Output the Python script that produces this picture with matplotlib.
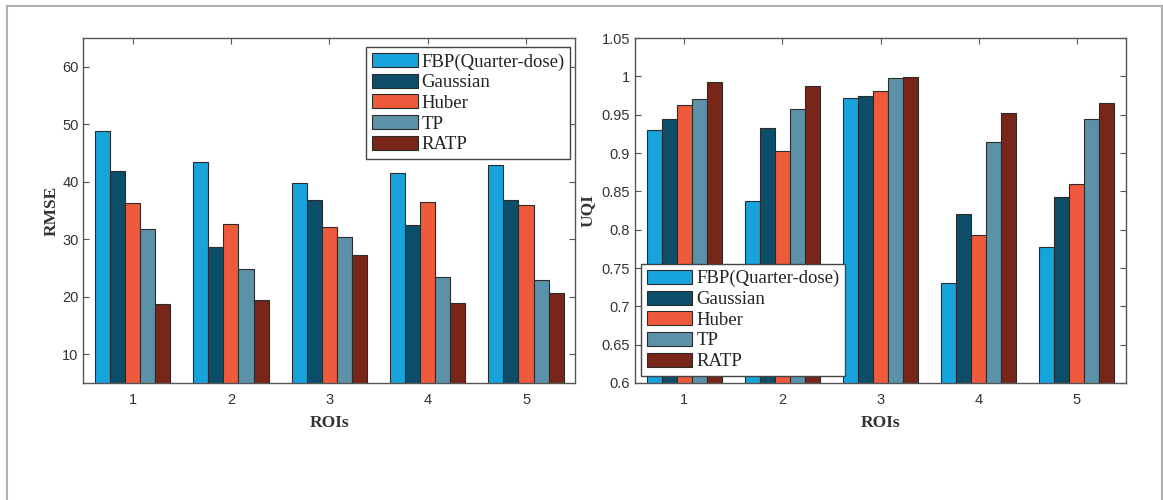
import matplotlib.pyplot as plt
from matplotlib.lines import Line2D
import numpy as np

# ── data ─────────────────────────────────────────────────────────────────────
ROIS = [1, 2, 3, 4, 5]
METHODS = ["FBP(Quarter-dose)", "Gaussian", "Huber", "TP", "RATP"]
COLORS = ["#17a3dc", "#0c4e6a", "#ef5a3c", "#5b92aa", "#78251a"]

RMSE_FBP      = [48.8, 43.4, 39.8, 41.5, 42.9]
RMSE_GAUSSIAN = [41.8, 28.6, 36.8, 32.4, 36.8]
RMSE_HUBER    = [36.3, 32.6, 32.2, 36.4, 35.9]
RMSE_TP       = [31.7, 24.9, 30.4, 23.4, 23.0]
RMSE_RATP     = [18.8, 19.4, 27.3, 19.0, 20.6]

UQI_FBP      = [0.930, 0.838, 0.972, 0.730, 0.777]
UQI_GAUSSIAN = [0.944, 0.932, 0.975, 0.820, 0.843]
UQI_HUBER    = [0.963, 0.903, 0.981, 0.793, 0.860]
UQI_TP       = [0.970, 0.958, 0.998, 0.914, 0.944]
UQI_RATP     = [0.992, 0.988, 0.999, 0.952, 0.965]

RMSE_TICKS = [10, 20, 30, 40, 50, 60]
UQI_TICKS = [0.6, 0.65, 0.7, 0.75, 0.8, 0.85, 0.9, 0.95, 1.0, 1.05]
UQI_TICKLABELS = ["0.6", "0.65", "0.7", "0.75", "0.8", "0.85", "0.9", "0.95", "1", "1.05"]

BAR_W = 0.153
TICK_FONT = "Liberation Sans"
SERIF = "Liberation Serif"
W, H = 1163, 500


def grouped_bars(ax, series):
    x = np.array(ROIS, dtype=float)
    for k, (vals, color, name) in enumerate(zip(series, COLORS, METHODS)):
        ax.bar(x + (k - 2) * BAR_W, vals, width=BAR_W, color=color,
               edgecolor="#2b2b2b", linewidth=0.8, label=name, zorder=2)


def style_axes(ax):
    ax.set_xlim(0.5, 5.5)
    ax.set_xticks(ROIS)
    ax.tick_params(direction="in", top=True, right=True, length=4,
                   width=0.8, colors="#555555", labelcolor="#333333",
                   labelsize=10.5)
    ax.tick_params(axis="x", pad=7)
    ax.tick_params(axis="y", pad=3.5)
    for lab in ax.get_xticklabels() + ax.get_yticklabels():
        lab.set_fontfamily(TICK_FONT)
    for sp in ax.spines.values():
        sp.set_color("#555555")
        sp.set_linewidth(1.0)
    ax.set_xlabel("ROIs", fontfamily=SERIF, fontweight="bold", fontsize=12.5,
                  color="#333333", labelpad=6)


def legend(ax, **kw):
    leg = ax.legend(prop={"family": SERIF, "size": 13.5}, fancybox=False,
                    edgecolor="#444444", framealpha=1, borderpad=0.3,
                    handlelength=2.45, handleheight=0.78, handletextpad=0.2,
                    labelspacing=0.165, borderaxespad=0, **kw)
    leg.get_frame().set_linewidth(1.0)
    for t in leg.get_texts():
        t.set_color("#222222")
    return leg


fig = plt.figure(figsize=(W / 100, H / 100), dpi=100)

# ── RMSE ─────────────────────────────────────────────────────────────────────
ax1 = fig.add_axes([83.4 / W, 117 / H, 491.8 / W, 345 / H])
grouped_bars(ax1, [RMSE_FBP, RMSE_GAUSSIAN, RMSE_HUBER, RMSE_TP, RMSE_RATP])
ax1.set_ylim(5, 65)
ax1.set_yticks(RMSE_TICKS)
style_axes(ax1)
ax1.set_ylabel("RMSE", fontfamily=SERIF, fontweight="bold", fontsize=12.5,
               color="#333333", labelpad=2)
legend(ax1, loc="upper left", bbox_to_anchor=(0.5746, 0.973))

# ── UQI ──────────────────────────────────────────────────────────────────────
ax2 = fig.add_axes([635 / W, 117 / H, 491 / W, 345 / H])
grouped_bars(ax2, [UQI_FBP, UQI_GAUSSIAN, UQI_HUBER, UQI_TP, UQI_RATP])
ax2.set_ylim(0.6, 1.05)
ax2.set_yticks(UQI_TICKS)
ax2.set_yticklabels(UQI_TICKLABELS)
style_axes(ax2)
ax2.set_ylabel("UQI", fontfamily=SERIF, fontweight="bold", fontsize=12.5,
               color="#333333", labelpad=4)
legend(ax2, loc="lower left", bbox_to_anchor=(0.012, 0.021))

# light frame around the figure (open at the bottom)
fx0, fx1, fy1 = 7 / W, 1161.5 / W, 494 / H
for xs, ys in [([fx0, fx0], [0, fy1]), ([fx0, fx1], [fy1, fy1]), ([fx1, fx1], [fy1, 0])]:
    fig.add_artist(Line2D(xs, ys, transform=fig.transFigure, color="#b0b0b0", lw=1.5))

fig.savefig("out.png", dpi=100)
